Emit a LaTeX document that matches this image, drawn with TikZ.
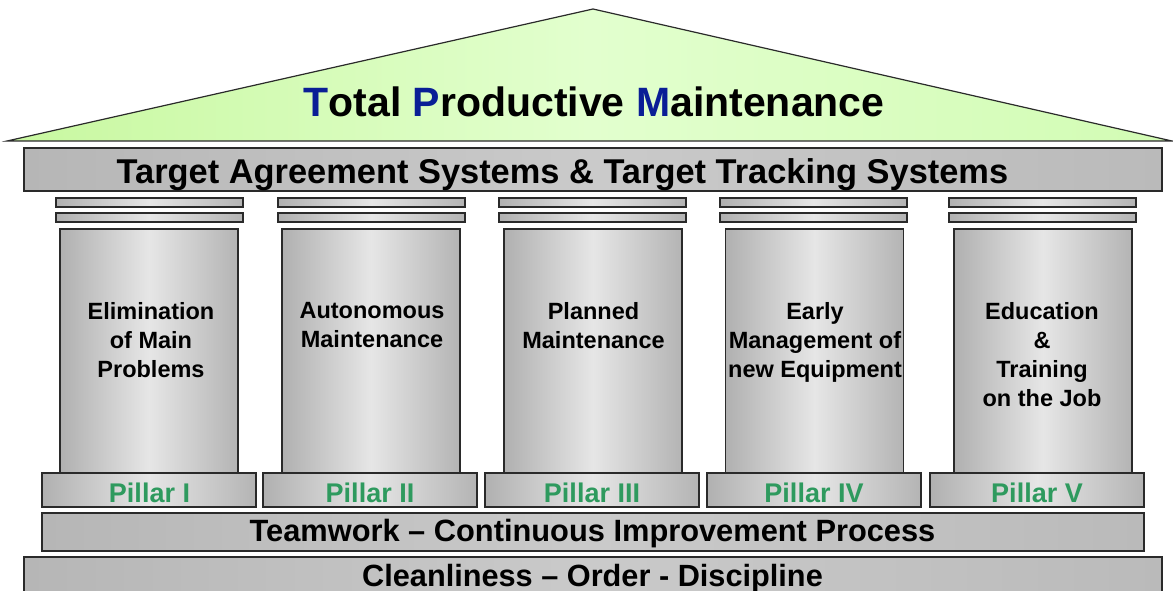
\documentclass[tikz,border=0pt]{standalone}
\usepackage{fontspec}
\setmainfont{Liberation Sans}
\definecolor{edge}{HTML}{2A2A2A}
\definecolor{tpmblue}{HTML}{0A1E96}
\definecolor{pgreen}{HTML}{2E9A5E}
\definecolor{roofL}{HTML}{C8F8A0}
\definecolor{roofM}{HTML}{E2FFCE}
\definecolor{roofR}{HTML}{D2FCB4}
\definecolor{barL}{HTML}{B6B6B6}
\definecolor{barM}{HTML}{CACACA}
\definecolor{barR}{HTML}{BABABA}
\definecolor{colL}{HTML}{B0B0B0}
\definecolor{colM}{HTML}{E6E6E6}
\definecolor{colR}{HTML}{B4B4B4}
\begin{document}
\begin{tikzpicture}[x=1pt,y=-1pt,
  roof/.style={draw=edge, line width=1.2pt, line join=miter, left color=roofL, right color=roofR, middle color=roofM},
  bar/.style={draw=edge, line width=1.3pt, inner sep=0pt, left color=barL, right color=barR, middle color=barM},
  colbody/.style={draw=edge, line width=1.4pt, inner sep=0pt, minimum width=178pt, minimum height=244pt, left color=colL, right color=colR, middle color=colM},
  strip/.style={draw=edge, line width=1.4pt, inner sep=0pt, minimum width=187pt, minimum height=9pt, left color=colL, right color=colR, middle color=colM},
  colbase/.style={draw=edge, line width=1.4pt, inner sep=0pt, minimum width=214pt, minimum height=34pt, left color=colL, right color=colR, middle color=colM},
  coltext/.style={inner sep=0pt, anchor=north, align=center, font=\bfseries\fontsize{23.5}{29}\selectfont},
  piltext/.style={inner sep=0pt, anchor=base, text=pgreen, font=\bfseries\fontsize{27}{30}\selectfont},
  bartext/.style={inner sep=0pt, anchor=base, font=\bfseries\fontsize{31}{34}\selectfont}
]
\useasboundingbox (0,0) rectangle (1173,591);
% roof
\draw[roof] (7,141) coordinate (rl) -- (593,9) coordinate (ra) -- (1172,141) coordinate (rr) -- cycle;
\node[inner sep=0pt, anchor=base, font=\bfseries\fontsize{41}{44}\selectfont] (title) at (594,117)
  {{\color{tpmblue}T}otal {\color{tpmblue}P}roductive {\color{tpmblue}M}aintenance};
% target bar
\node[bar, minimum width=1138pt, minimum height=43pt] (tgt) at (593,169.5) {};
\node[bartext, font=\bfseries\fontsize{34.4}{36}\selectfont] (tgtT) at (562.5,183) {Target Agreement Systems \& Target Tracking Systems};
% pillars
\foreach \n/\bx/\tx/\sx/\ax/\px/\txt/\lab in {
  1/149/151/149.5/149/149.5/{Elimination\\of Main\\Problems}/{Pillar I},
  2/371/372/371.5/370/370/{Autonomous\\Maintenance}/{Pillar II},
  3/593/593.5/592.5/592/592/{Planned\\Maintenance}/{Pillar III},
  4/814.5/815/813.5/814/814/{Early\\Management of\\new Equipment}/{Pillar IV},
  5/1043/1042/1042.5/1037/1037/{Education\\\&\\Training\\on the Job}/{Pillar V}}{
  \node[strip] (sa\n) at (\sx,202.5) {};
  \node[strip] (sb\n) at (\sx,217.5) {};
  \node[colbody] (body\n) at (\bx,351) {};
  \node[coltext] (txt\n) at (\tx,302) {\txt};
  \node[colbase] (base\n) at (\ax,490) {};
  \node[piltext] (lab\n) at (\px,502) {\lab};
}
% teamwork bar
\node[bar, minimum width=1102pt, minimum height=38pt] (team) at (593,532) {};
\node[bartext, font=\bfseries\fontsize{30.8}{34}\selectfont] (teamT) at (592.5,541) {Teamwork – Continuous Improvement Process};
% cleanliness bar
\node[bar, minimum width=1138pt, minimum height=48pt] (clean) at (593,581) {};
\node[bartext, font=\bfseries\fontsize{30.7}{34}\selectfont] (cleanT) at (592.5,586) {Cleanliness – Order - Discipline};
\end{tikzpicture}
\end{document}
